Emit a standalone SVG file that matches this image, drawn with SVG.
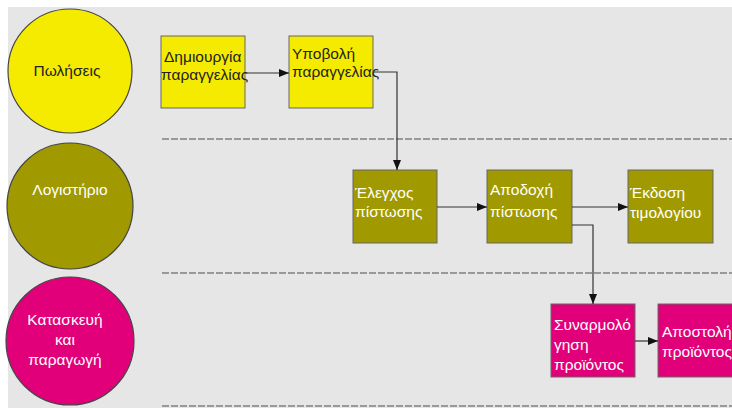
<svg xmlns="http://www.w3.org/2000/svg" width="732" height="408" viewBox="0 0 732 408">
<defs>
<marker id="arr" viewBox="0 0 10 10" refX="10" refY="5" markerWidth="10" markerHeight="10" markerUnits="userSpaceOnUse" orient="auto">
<path d="M0,1 L10,5 L0,9 Z" fill="#111"/>
</marker>
</defs>
<style>
.t{font-family:"Liberation Sans",Arial,sans-serif;font-size:15.5px}
.dk{fill:#222}
.wt{fill:#fff}
.lane{stroke:#999;stroke-width:2;stroke-dasharray:7 2;fill:none}
.box{stroke:#666;stroke-width:1}
.circ{stroke:#444;stroke-width:1.2}
.y{fill:#f5eb00}
.o{fill:#a09a00}
.p{fill:#e2007a}
.c{fill:none;stroke:#333;stroke-width:1.2;marker-end:url(#arr)}
</style>
<rect x="0" y="0" width="732" height="408" fill="#fff"/>
<rect x="8" y="7" width="724" height="401" fill="#e6e6e6"/>
<g id="lanes">
<line class="lane" x1="162" y1="139" x2="732" y2="139"/>
<line class="lane" x1="162" y1="273" x2="732" y2="273"/>
<line class="lane" x1="162" y1="406" x2="732" y2="406"/>
</g>
<g id="sales">
<circle class="circ y" cx="70" cy="71" r="62"/>
<text class="t dk" x="67" y="76" text-anchor="middle" font-size="16">Πωλήσεις</text>
</g>
<g id="accounting">
<circle class="circ o" cx="70" cy="206" r="63"/>
<text class="t wt" x="70" y="195" text-anchor="middle" font-size="14.5">Λογιστήριο</text>
</g>
<g id="production">
<circle class="circ p" cx="70" cy="341" r="64"/>
<text class="t wt" x="65" y="325" text-anchor="middle">Κατασκευή</text>
<text class="t wt" x="65" y="345" text-anchor="middle">και</text>
<text class="t wt" x="65" y="365" text-anchor="middle">παραγωγή</text>
</g>
<g id="create-order">
<rect class="box y" x="161" y="36" width="84" height="72"/>
<text class="t dk" x="164" y="62" font-size="16">Δημιουργία</text>
<text class="t dk" x="161" y="80" font-size="16.5">παραγγελίας</text>
</g>
<g id="submit-order">
<rect class="box y" x="289" y="36" width="84" height="72"/>
<text class="t dk" x="292" y="59" font-size="12">Υποβολή</text>
<text class="t dk" x="292" y="77" font-size="11.5">παραγγελίας</text>
</g>
<g id="credit-check">
<rect class="box o" x="353" y="170" width="84" height="73"/>
<text class="t wt" x="355" y="198">Έλεγχος</text>
<text class="t wt" x="355" y="217">πίστωσης</text>
</g>
<g id="credit-accept">
<rect class="box o" x="487" y="170" width="85" height="73"/>
<text class="t wt" x="490" y="195">Αποδοχή</text>
<text class="t wt" x="490" y="217">πίστωσης</text>
</g>
<g id="invoice">
<rect class="box o" x="628" y="170" width="85" height="73"/>
<text class="t wt" x="630" y="198">Έκδοση</text>
<text class="t wt" x="630" y="218" font-size="16">τιμολογίου</text>
</g>
<g id="assembly">
<rect class="box p" x="551" y="304" width="84" height="73"/>
<text class="t wt" x="554" y="330">Συναρμολό</text>
<text class="t wt" x="554" y="350">γηση</text>
<text class="t wt" x="554" y="370">προϊόντος</text>
</g>
<g id="shipping">
<rect class="box p" x="658" y="304" width="90" height="73"/>
<text class="t wt" x="662" y="337">Αποστολή</text>
<text class="t wt" x="662" y="357">προϊόντος</text>
</g>
<g id="connectors">
<path class="c" d="M245,73 L289,73"/>
<path class="c" d="M373,72 L397,72 L397,170"/>
<path class="c" d="M437,207 L487,207"/>
<path class="c" d="M572,207 L628,207"/>
<path class="c" d="M572,225 L593,225 L593,304"/>
<path class="c" d="M635,341 L658,341"/>
</g>
</svg>
